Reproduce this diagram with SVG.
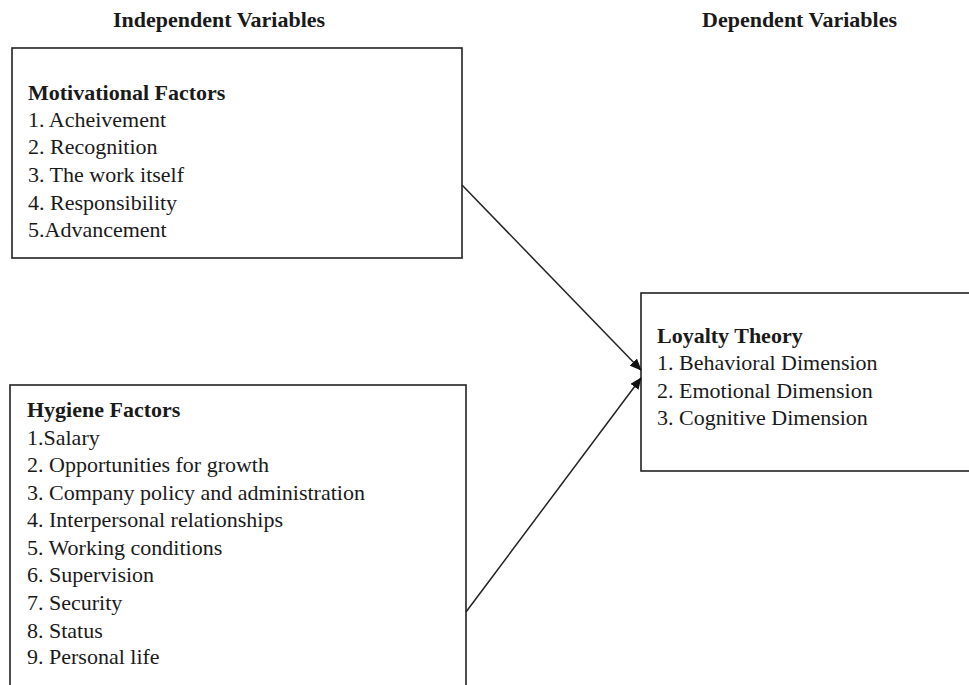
<svg xmlns="http://www.w3.org/2000/svg" width="969" height="685" viewBox="0 0 969 685">
<style>
.box{fill:#fff;stroke:#222;stroke-width:1.6}
.t{font-family:"Liberation Serif","Times New Roman",serif;font-size:22px;fill:#1a1a1a}
.b{font-weight:bold}
.title{font-family:"Liberation Serif","Times New Roman",serif;font-size:22px;font-weight:bold;fill:#1a1a1a}
.conn{stroke:#222;stroke-width:1.5;fill:none}
</style>
<defs>
<marker id="arr" markerWidth="12" markerHeight="10" refX="11" refY="5" orient="auto" markerUnits="userSpaceOnUse">
<path d="M0,0 L12,5 L0,10 z" fill="#111"/>
</marker>
</defs>
<rect width="969" height="685" fill="#fff"/>
<g id="titles">
<text class="title" x="113" y="27">Independent Variables</text>
<text class="title" x="702" y="27">Dependent Variables</text>
</g>
<g id="motivational">
<rect class="box" x="12" y="48" width="450" height="210"/>
<text class="t b" x="28" y="100">Motivational Factors</text>
<text class="t" x="28" y="127">1. Acheivement</text>
<text class="t" x="28" y="154">2. Recognition</text>
<text class="t" x="28" y="182">3. The work itself</text>
<text class="t" x="28" y="210">4. Responsibility</text>
<text class="t" x="28" y="237">5.Advancement</text>
</g>
<g id="hygiene">
<rect class="box" x="10" y="385" width="456" height="310"/>
<text class="t b" x="27" y="417">Hygiene Factors</text>
<text class="t" x="27" y="445">1.Salary</text>
<text class="t" x="27" y="472">2. Opportunities for growth</text>
<text class="t" x="27" y="500">3. Company policy and administration</text>
<text class="t" x="27" y="527">4. Interpersonal relationships</text>
<text class="t" x="27" y="555">5. Working conditions</text>
<text class="t" x="27" y="582">6. Supervision</text>
<text class="t" x="27" y="610">7. Security</text>
<text class="t" x="27" y="638">8. Status</text>
<text class="t" x="27" y="664">9. Personal life</text>
</g>
<g id="loyalty">
<rect class="box" x="641" y="293" width="340" height="178"/>
<text class="t b" x="657" y="343">Loyalty Theory</text>
<text class="t" x="657" y="370">1. Behavioral Dimension</text>
<text class="t" x="657" y="398">2. Emotional Dimension</text>
<text class="t" x="657" y="425">3. Cognitive Dimension</text>
</g>
<g id="connectors">
<line class="conn" x1="462" y1="185" x2="641" y2="370" marker-end="url(#arr)"/>
<line class="conn" x1="466" y1="612" x2="641" y2="378" marker-end="url(#arr)"/>
</g>
</svg>
